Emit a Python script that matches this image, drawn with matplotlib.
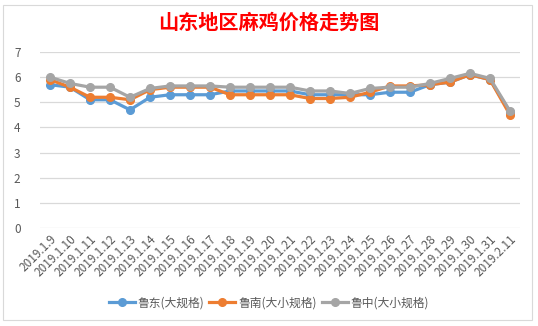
import matplotlib
matplotlib.use("Agg")
import matplotlib.pyplot as plt
from matplotlib.patches import Rectangle

plt.rcParams['font.family'] = ['Noto Sans CJK SC', 'DejaVu Sans']

# ---------------------------------------------------------------------------
# Data
# ---------------------------------------------------------------------------
dates = ["2019.1.9", "2019.1.10", "2019.1.11", "2019.1.12", "2019.1.13",
         "2019.1.14", "2019.1.15", "2019.1.16", "2019.1.17", "2019.1.18",
         "2019.1.19", "2019.1.20", "2019.1.21", "2019.1.22", "2019.1.23",
         "2019.1.24", "2019.1.25", "2019.1.26", "2019.1.27", "2019.1.28",
         "2019.1.29", "2019.1.30", "2019.1.31", "2019.2.11"]

ludong = [5.7, 5.6, 5.1, 5.1, 4.7, 5.2, 5.3, 5.3, 5.3, 5.45, 5.45, 5.45,
          5.45, 5.3, 5.3, 5.3, 5.3, 5.4, 5.4, 5.7, 5.8, 6.1, 5.9, 4.6]
lunan = [5.9, 5.6, 5.2, 5.2, 5.1, 5.5, 5.6, 5.6, 5.6, 5.3, 5.3, 5.3,
         5.3, 5.15, 5.15, 5.2, 5.4, 5.65, 5.65, 5.7, 5.8, 6.1, 5.9, 4.5]
luzhong = [6.0, 5.75, 5.6, 5.6, 5.2, 5.55, 5.65, 5.65, 5.65, 5.6, 5.6, 5.6,
           5.6, 5.45, 5.45, 5.35, 5.55, 5.6, 5.6, 5.75, 5.95, 6.15, 5.95, 4.65]

series = [("鲁东(大规格)", ludong, "#5B9BD5"),
          ("鲁南(大小规格)", lunan, "#ED7D31"),
          ("鲁中(大小规格)", luzhong, "#A5A5A5")]

# ---------------------------------------------------------------------------
# Figure
# ---------------------------------------------------------------------------
W, H = 538, 326
fig = plt.figure(figsize=(W / 100, H / 100), dpi=100)
fig.patch.set_facecolor("white")

# chart-area border
fig.patches.append(Rectangle((3 / W, 1 - 320 / H), 529 / W, 315 / H,
                             transform=fig.transFigure, fill=False,
                             edgecolor="#D9D9D9", linewidth=0.8))

ax = fig.add_axes([40 / W, 1 - 228 / H, 480 / W, 176 / H])
x = list(range(len(dates)))
for name, vals, col in series:
    ax.plot(x, vals, color=col, linewidth=2.3, marker="o", markersize=5.5,
            label=name, solid_joinstyle="round")

ax.set_xlim(-0.5, len(dates) - 0.5)
ax.set_ylim(0, 7)
ax.set_yticks(range(0, 8))
ax.grid(axis="y", color="#D9D9D9", linewidth=0.9)
ax.set_axisbelow(True)
for s in ax.spines.values():
    s.set_visible(False)
ax.tick_params(length=0, colors="#595959", labelsize=8.5)
ax.tick_params(axis="y", pad=14)
ax.set_xticks(x)
ax.set_xticklabels(dates, rotation=45, ha="right", rotation_mode="anchor",
                   fontsize=8.5, color="#595959")

fig.text(0.5, 1 - 22 / H, "山东地区麻鸡价格走势图", ha="center", va="center",
         fontsize=14.5, fontweight="bold", color="#FF0000")

fig.legend(loc="center", bbox_to_anchor=(0.5, 1 - 303 / H), ncol=3,
           frameon=False, fontsize=8.5, handlelength=2.2, columnspacing=0.4,
           handletextpad=0.25, labelcolor="#595959")

fig.savefig("out.png", dpi=100)
